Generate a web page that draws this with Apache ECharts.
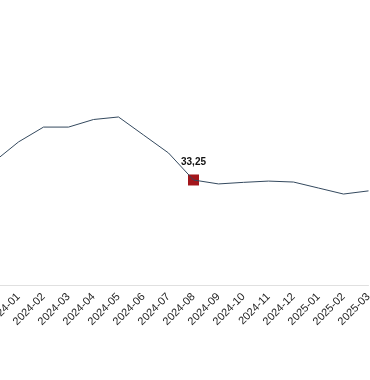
<!DOCTYPE html>
<html><head><meta charset="utf-8">
<script src="https://cdn.jsdelivr.net/npm/echarts@6/dist/echarts.min.js"></script>
<style>html,body{margin:0;padding:0;background:#fff}#c{width:370px;height:380px}</style>
</head><body><div id="c"></div>
<script>
const categories = ['2023-12','2024-01','2024-02','2024-03','2024-04','2024-05','2024-06','2024-07','2024-08','2024-09','2024-10','2024-11','2024-12','2025-01','2025-02','2025-03'];
const values = [38.9,45.3,50.0,50.0,52.4,53.2,47.5,41.8,33.25,32.0,32.5,32.9,32.6,30.7,28.8,29.8];
const highlightCategory = '2024-08';

const hi = categories.indexOf(highlightCategory);
const hiData = values.map((v,i)=> i===hi ? v : null);
const chart = echarts.init(document.getElementById('c'));
chart.setOption({
  animation:false,
  grid:{left:-6.5, right:1.5, top:95.5, bottom:95, containLabel:false, outerBoundsMode:'none'},
  xAxis:{type:'category', data:categories, boundaryGap:false,
    axisLine:{lineStyle:{color:'#e0e0e0'}}, axisTick:{show:false},
    axisLabel:{rotate:45, fontSize:11, color:'#222', margin:10, interval:0, hideOverlap:false}},
  yAxis:{type:'value', min:0, max:60, show:false},
  series:[
    {type:'line', data:values, symbol:'none', lineStyle:{color:'#34495e', width:1}},
    {type:'scatter', data:hiData, symbol:'rect', symbolSize:11,
      itemStyle:{color:'#a3161b', opacity:1},
      label:{show:true, position:'top', distance:7, color:'#111', fontSize:10, fontWeight:'bold',
        formatter:p=>String(p.value).replace('.',',')}}
  ]
});
</script></body></html>
